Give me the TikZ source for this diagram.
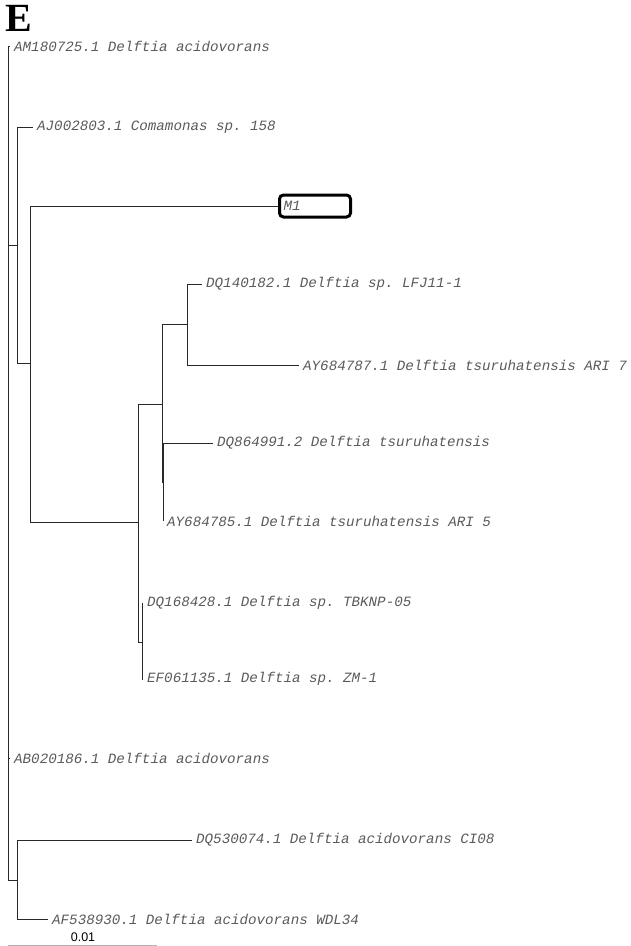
\documentclass[tikz,border=0pt]{standalone}
\usepackage{fontspec}
\setmainfont{Liberation Serif}
\setsansfont{Liberation Sans}
\setmonofont{Liberation Mono}
\usetikzlibrary{positioning}
\definecolor{treeline}{RGB}{40, 40, 40}
\definecolor{taxgray}{RGB}{90, 90, 90}

\begin{document}
\begin{tikzpicture}[
  x=1pt, y=-1pt,
  br/.style={draw=treeline, line width=0.9pt},
  lbl/.style={anchor=west, inner xsep=4pt, inner ysep=2pt, text=taxgray, font=\fontsize{14.2}{16}\selectfont\ttfamily\itshape},
  mbox/.style={lbl, draw=black, line width=3pt, rounded corners=4pt, text width=63pt, minimum height=22pt, inner sep=4pt}
]
  \useasboundingbox (0,0) rectangle (630,946);
  \node[font=\fontsize{40}{40}\selectfont\bfseries] (panel) at (19,18) {E};

  \coordinate (r) at (8,460);
  \coordinate (n1) at (17,245);
  \coordinate (n2) at (30,363);
  \coordinate (n3) at (138,522);
  \coordinate (n4) at (162,404);
  \coordinate (n5) at (187,324);
  \coordinate (n6) at (163,482);
  \coordinate (n7) at (142,642);
  \coordinate (n8) at (17,880);

  \node[lbl] (tAM) at (10,46) {AM180725.1 Delftia acidovorans};
  \node[lbl] (tAJ) at (33,127) {AJ002803.1 Comamonas sp. 158};
  \node[mbox, anchor=west] (tM1) at (278,206) {M1};
  \node[lbl] (tLF) at (202,284) {DQ140182.1 Delftia sp. LFJ11-1};
  \node[lbl] (tA7) at (299,365) {AY684787.1 Delftia tsuruhatensis ARI 7};
  \node[lbl] (tD8) at (213,443) {DQ864991.2 Delftia tsuruhatensis};
  \node[lbl] (tA5) at (163,521) {AY684785.1 Delftia tsuruhatensis ARI 5};
  \node[lbl] (tTB) at (143,603) {DQ168428.1 Delftia sp. TBKNP-05};
  \node[lbl] (tZM) at (143,679) {EF061135.1 Delftia sp. ZM-1};
  \node[lbl] (tAB) at (10,758) {AB020186.1 Delftia acidovorans};
  \node[lbl] (tCI) at (192,840) {DQ530074.1 Delftia acidovorans CI08};
  \node[lbl] (tWD) at (48,919) {AF538930.1 Delftia acidovorans WDL34};

  \draw[br] (r) |- (tAM.west);
  \draw[br] (r) |- (n1);
  \draw[br] (r) |- (tAB.west);
  \draw[br] (r) |- (n8);
  \draw[br] (n1) |- (tAJ.west);
  \draw[br] (n1) |- (n2);
  \draw[br] (n2) |- (tM1.west);
  \draw[br] (n2) |- (n3);
  \draw[br] (n3) |- (n4);
  \draw[br] (n3) |- (n7);
  \draw[br] (n4) |- (n5);
  \draw[br] (n4) |- (n6);
  \draw[br] (n5) |- (tLF.west);
  \draw[br] (n5) |- (tA7.west);
  \draw[br] (n6) |- (tD8.west);
  \draw[br] (n6) |- (tA5.west);
  \draw[br] (n7) |- (tTB.west);
  \draw[br] (n7) |- (tZM.west);
  \draw[br] (n8) |- (tCI.west);
  \draw[br] (n8) |- (tWD.west);

  \coordinate (sa) at (8,945);
  \coordinate (sb) at (157,945);
  \draw[gray!60, line width=1pt] (sa) -- (sb);
  \node[font=\sffamily\fontsize{12.5}{13}\selectfont, inner sep=0pt] (slbl) at (83,937) {0.01};
\end{tikzpicture}
\end{document}
